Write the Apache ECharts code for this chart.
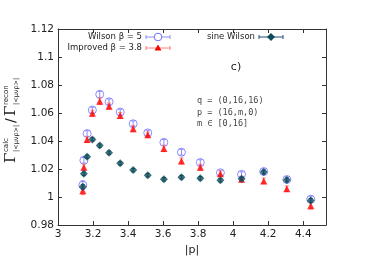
<!DOCTYPE html>
<html><head><meta charset="utf-8">
<script src="https://cdn.jsdelivr.net/npm/echarts@6/dist/echarts.min.js"></script>
<style>html,body{margin:0;padding:0;background:#fff}#c{width:369px;height:261px}</style>
</head><body><div id="c"></div>
<script>
// |p| for m = 0..16
const pAbs = [3.1416, 3.1477, 3.1661, 3.1963, 3.2383, 3.2915, 3.3552, 3.4291, 3.5124, 3.6045, 3.7047, 3.8124, 3.9270, 4.0479, 4.1745, 4.3063, 4.4429];
const wilson = [1.0085, 1.0262, 1.0453, 1.0621, 1.0733, 1.0680, 1.0607, 1.0523, 1.0458, 1.0390, 1.0320, 1.0246, 1.0173, 1.0162, 1.0182, 1.0125, 0.9984];
const wilsonErr = [0.0030, 0.0020, 0.0020, 0.0020, 0.0022, 0.0020, 0.0020, 0.0020, 0.0018, 0.0020, 0.0020, 0.0020, 0.0018, 0.0018, 0.0018, 0.0018, 0.0022];
const improved = [1.0045, 1.0213, 1.0411, 1.0598, 1.0684, 1.0649, 1.0582, 1.0488, 1.0444, 1.0346, 1.0257, 1.0213, 1.0166, 1.0127, 1.0115, 1.0059, 0.9938];
const improvedErr = [0.0028, 0.0022, 0.0022, 0.0022, 0.0024, 0.0022, 0.0022, 0.0022, 0.0020, 0.0022, 0.0022, 0.0022, 0.0020, 0.0020, 0.0020, 0.0020, 0.0024];
const sine = [1.0073, 1.0166, 1.0288, 1.0411, 1.0367, 1.0316, 1.0241, 1.0192, 1.0155, 1.0127, 1.0141, 1.0134, 1.0120, 1.0131, 1.0178, 1.0122, 0.9975];
const sineErr = [0.0015, 0.0012, 0.0012, 0.0012, 0.0012, 0.0012, 0.0012, 0.0012, 0.0012, 0.0012, 0.0012, 0.0012, 0.0012, 0.0012, 0.0013, 0.0013, 0.0015];
const xTicks = [3, 3.2, 3.4, 3.6, 3.8, 4, 4.2, 4.4];
const yTicks = [0.98, 1, 1.02, 1.04, 1.06, 1.08, 1.1, 1.12];
const legendNames = ['Wilson \u03b2 = 5', 'Improved \u03b2 = 3.8', 'sine Wilson'];
const annotations = ['q = (0,16,16)', 'p = (16,m,0)', 'm \u2208 [0,16]'];

const COL_W = '#6f6fff', COL_WE = '#8d8dff';
const COL_I = '#ff0000', COL_IE = '#ff8080';
const COL_S = '#0c4b58', COL_SE = '#1f4f7a';

function errData(v, e) { return pAbs.map((x, i) => [x, v[i] - e[i], v[i] + e[i]]); }
function ptData(v) { return pAbs.map((x, i) => [x, v[i]]); }
function errSeries(v, e, color, z) {
  return {
    type: 'custom', z: z, data: errData(v, e), silent: true,
    renderItem: function (params, api) {
      const x = api.value(0);
      const a = api.coord([x, api.value(1)]), b = api.coord([x, api.value(2)]);
      const w = 2;
      const st = { stroke: color, lineWidth: 1 };
      return { type: 'group', children: [
        { type: 'line', shape: { x1: a[0], y1: a[1], x2: b[0], y2: b[1] }, style: st },
        { type: 'line', shape: { x1: a[0] - w, y1: a[1], x2: a[0] + w, y2: a[1] }, style: st },
        { type: 'line', shape: { x1: b[0] - w, y1: b[1], x2: b[0] + w, y2: b[1] }, style: st }
      ] };
    }
  };
}

const chart = echarts.init(document.getElementById('c'), null, { renderer: 'canvas' });
const axisFont = { fontFamily: 'DejaVu Sans', fontSize: 10.5, color: '#222' };
const lineStyle = { color: '#333', width: 1 };

function legendItem(y, xText, xs, name, color, ecolor, marker) {
  const items = [
    { type: 'text', x: xText, y: y, style: { text: name, fontFamily: 'DejaVu Sans', fontSize: 8.5, fill: '#222', align: 'right', verticalAlign: 'middle' } },
    { type: 'line', shape: { x1: xs, y1: y, x2: xs + 24, y2: y }, style: { stroke: ecolor, lineWidth: 1 } },
    { type: 'line', shape: { x1: xs, y1: y - 2, x2: xs, y2: y + 2 }, style: { stroke: ecolor, lineWidth: 1 } },
    { type: 'line', shape: { x1: xs + 24, y1: y - 2, x2: xs + 24, y2: y + 2 }, style: { stroke: ecolor, lineWidth: 1 } }
  ];
  items.push(marker(xs + 12, y));
  return items;
}

const graphics = [].concat(
  legendItem(37, 142, 146, legendNames[0], COL_W, COL_WE, (x, y) => ({ type: 'circle', shape: { cx: x, cy: y, r: 3.8 }, style: { fill: '#fff', stroke: COL_W, lineWidth: 1 } })),
  legendItem(48, 142, 146, legendNames[1], COL_I, COL_IE, (x, y) => ({ type: 'polygon', shape: { points: [[x, y - 3.5], [x + 3.5, y + 2.5], [x - 3.5, y + 2.5]] }, style: { fill: COL_I } })),
  legendItem(37, 255, 259, legendNames[2], COL_S, COL_SE, (x, y) => ({ type: 'polygon', shape: { points: [[x, y - 4], [x + 4, y], [x, y + 4], [x - 4, y]] }, style: { fill: COL_S } })),
  [
    { type: 'text', x: 236, y: 67, style: { text: 'c)', fontFamily: 'DejaVu Sans', fontSize: 11, fill: '#222', align: 'center', verticalAlign: 'middle' } },
    { type: 'text', x: 197, y: 101, style: { text: annotations[0], fontFamily: 'DejaVu Sans Mono', fontSize: 8.5, fill: '#444', align: 'left', verticalAlign: 'middle' } },
    { type: 'text', x: 197, y: 113, style: { text: annotations[1], fontFamily: 'DejaVu Sans Mono', fontSize: 8.5, fill: '#444', align: 'left', verticalAlign: 'middle' } },
    { type: 'text', x: 197, y: 124, style: { text: annotations[2], fontFamily: 'DejaVu Sans Mono', fontSize: 8.5, fill: '#444', align: 'left', verticalAlign: 'middle' } },
    { type: 'group', x: 11, y: 163, rotation: Math.PI / 2, children: [
      { type: 'text', x: 0, y: 0, style: { text: '\u0393', fontFamily: 'DejaVu Serif', fontSize: 15, fill: '#222', verticalAlign: 'middle' } },
      { type: 'text', x: 11, y: -5, style: { text: 'calc', fontFamily: 'DejaVu Sans', fontSize: 7, fill: '#222', verticalAlign: 'middle' } },
      { type: 'text', x: 11, y: 5, style: { text: '|<\u03bc\u03bd\u03c1>|', fontFamily: 'DejaVu Sans', fontSize: 6.5, fill: '#222', verticalAlign: 'middle' } },
      { type: 'text', x: 40, y: 0, style: { text: '/', fontFamily: 'DejaVu Sans', fontSize: 14, fill: '#222', verticalAlign: 'middle' } },
      { type: 'text', x: 47, y: 0, style: { text: '\u0393', fontFamily: 'DejaVu Serif', fontSize: 15, fill: '#222', verticalAlign: 'middle' } },
      { type: 'text', x: 58, y: -5, style: { text: 'recon', fontFamily: 'DejaVu Sans', fontSize: 7, fill: '#222', verticalAlign: 'middle' } },
      { type: 'text', x: 58, y: 5, style: { text: '|<\u03bc\u03bd\u03c1>|', fontFamily: 'DejaVu Sans', fontSize: 6.5, fill: '#222', verticalAlign: 'middle' } }
    ] }
  ]
);

const xBase = { type: 'value', min: xTicks[0], max: 4.53, interval: 0.2, axisLine: { show: true, lineStyle: lineStyle }, axisTick: { show: true, inside: true, length: 4, lineStyle: lineStyle }, splitLine: { show: false } };
const yBase = { type: 'value', min: yTicks[0], max: yTicks[yTicks.length - 1], interval: 0.02, axisLine: { show: true, lineStyle: lineStyle }, axisTick: { show: true, inside: true, length: 4, lineStyle: lineStyle }, splitLine: { show: false } };

chart.setOption({
  animation: false,
  backgroundColor: '#fff',
  grid: { left: 58, top: 29, right: 43, bottom: 32, containLabel: false },
  xAxis: [
    Object.assign({}, xBase, { position: 'bottom', name: '|p|', nameLocation: 'middle', nameGap: 20, nameTextStyle: { fontFamily: 'DejaVu Sans', fontSize: 11, color: '#222' },
      axisLabel: Object.assign({}, axisFont, { margin: 4, showMaxLabel: false, formatter: v => xTicks.some(t => Math.abs(t - v) < 1e-6) ? String(+v.toFixed(1)) : '' }) }),
    Object.assign({}, xBase, { position: 'top', axisLabel: { show: false } })
  ],
  yAxis: [
    Object.assign({}, yBase, { position: 'left', axisLabel: Object.assign({}, axisFont, { margin: 4, formatter: v => String(+v.toFixed(2)) }) }),
    Object.assign({}, yBase, { position: 'right', axisLabel: { show: false } })
  ],
  graphic: graphics,
  series: [
    errSeries(wilson, wilsonErr, COL_WE, 2),
    { type: 'scatter', z: 3, data: ptData(wilson), symbol: 'circle', symbolSize: 8, itemStyle: { color: 'rgba(255,255,255,0)', borderColor: COL_W, borderWidth: 1 } },
    errSeries(improved, improvedErr, COL_IE, 4),
    { type: 'scatter', z: 5, data: ptData(improved), symbol: 'triangle', symbolSize: 7, itemStyle: { color: COL_I } },
    errSeries(sine, sineErr, COL_SE, 6),
    { type: 'scatter', z: 7, data: ptData(sine), symbol: 'diamond', symbolSize: 8, itemStyle: { color: COL_S } }
  ]
});
</script></body></html>
